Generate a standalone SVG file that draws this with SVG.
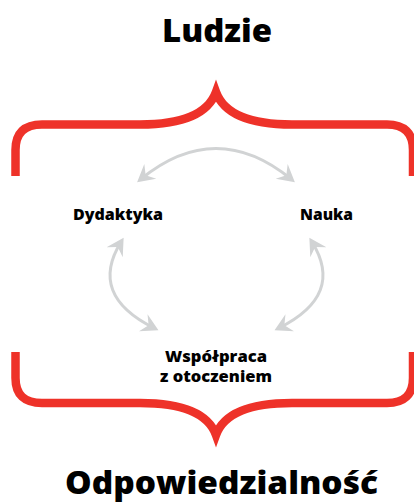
<svg xmlns="http://www.w3.org/2000/svg" width="414" height="504" viewBox="0 0 414 504">
<style>
.brace{fill:none;stroke:#ee3229;stroke-width:8.5;stroke-linejoin:miter;stroke-miterlimit:20}
.arc{fill:none;stroke:#d1d3d4;stroke-width:3;marker-start:url(#ah);marker-end:url(#ah)}
.t{font-family:"Open Sans","Liberation Sans",sans-serif;font-weight:800;fill:#000;text-anchor:middle}
.big{font-size:31px}
.lbl{font-size:15.5px}
</style>
<defs>
<marker id="ah" markerUnits="userSpaceOnUse" orient="auto-start-reverse" markerWidth="30" markerHeight="30" refX="0" refY="0" viewBox="-15 -15 30 30" overflow="visible">
<path d="M5,0 L-12,-9.5 L-6,0 L-12,9.5 Z" fill="#d1d3d4"/>
</marker>
</defs>
<g id="braces">
<path class="brace" d="M15.5,176 V150 Q15.5,124.5 42,124.5 H140 C182,124.5 208,114 216,92 C224,114 250,124.5 292,124.5 H387 Q413,124.5 413,150 V176"/>
<path class="brace" d="M15.5,352 V378 Q15.5,403 42,403 H140 C182,403 208,413 216,435 C224,413 250,403 292,403 H387 Q413,403 413,378 V352"/>
</g>
<g id="connectors">
<path class="arc" d="M141,179 Q216,118 291,179"/>
<path class="arc" d="M121,242 Q88,295 154,328"/>
<path class="arc" d="M312,242 Q345,295 279,328"/>
</g>
<g id="ludzie"><text class="t big" x="217" y="42" textLength="110" lengthAdjust="spacingAndGlyphs">Ludzie</text></g>
<g id="dydaktyka"><text class="t lbl" x="118" y="220" textLength="90" lengthAdjust="spacingAndGlyphs">Dydaktyka</text></g>
<g id="nauka"><text class="t lbl" x="326.5" y="220" textLength="53" lengthAdjust="spacingAndGlyphs">Nauka</text></g>
<g id="wspolpraca"><text class="t lbl" x="216" y="362" textLength="102" lengthAdjust="spacingAndGlyphs">Współpraca</text><text class="t lbl" x="216" y="382" textLength="112" lengthAdjust="spacingAndGlyphs">z otoczeniem</text></g>
<g id="odpowiedzialnosc"><text class="t big" x="221.5" y="494" textLength="313" lengthAdjust="spacingAndGlyphs">Odpowiedzialność</text></g>
</svg>
